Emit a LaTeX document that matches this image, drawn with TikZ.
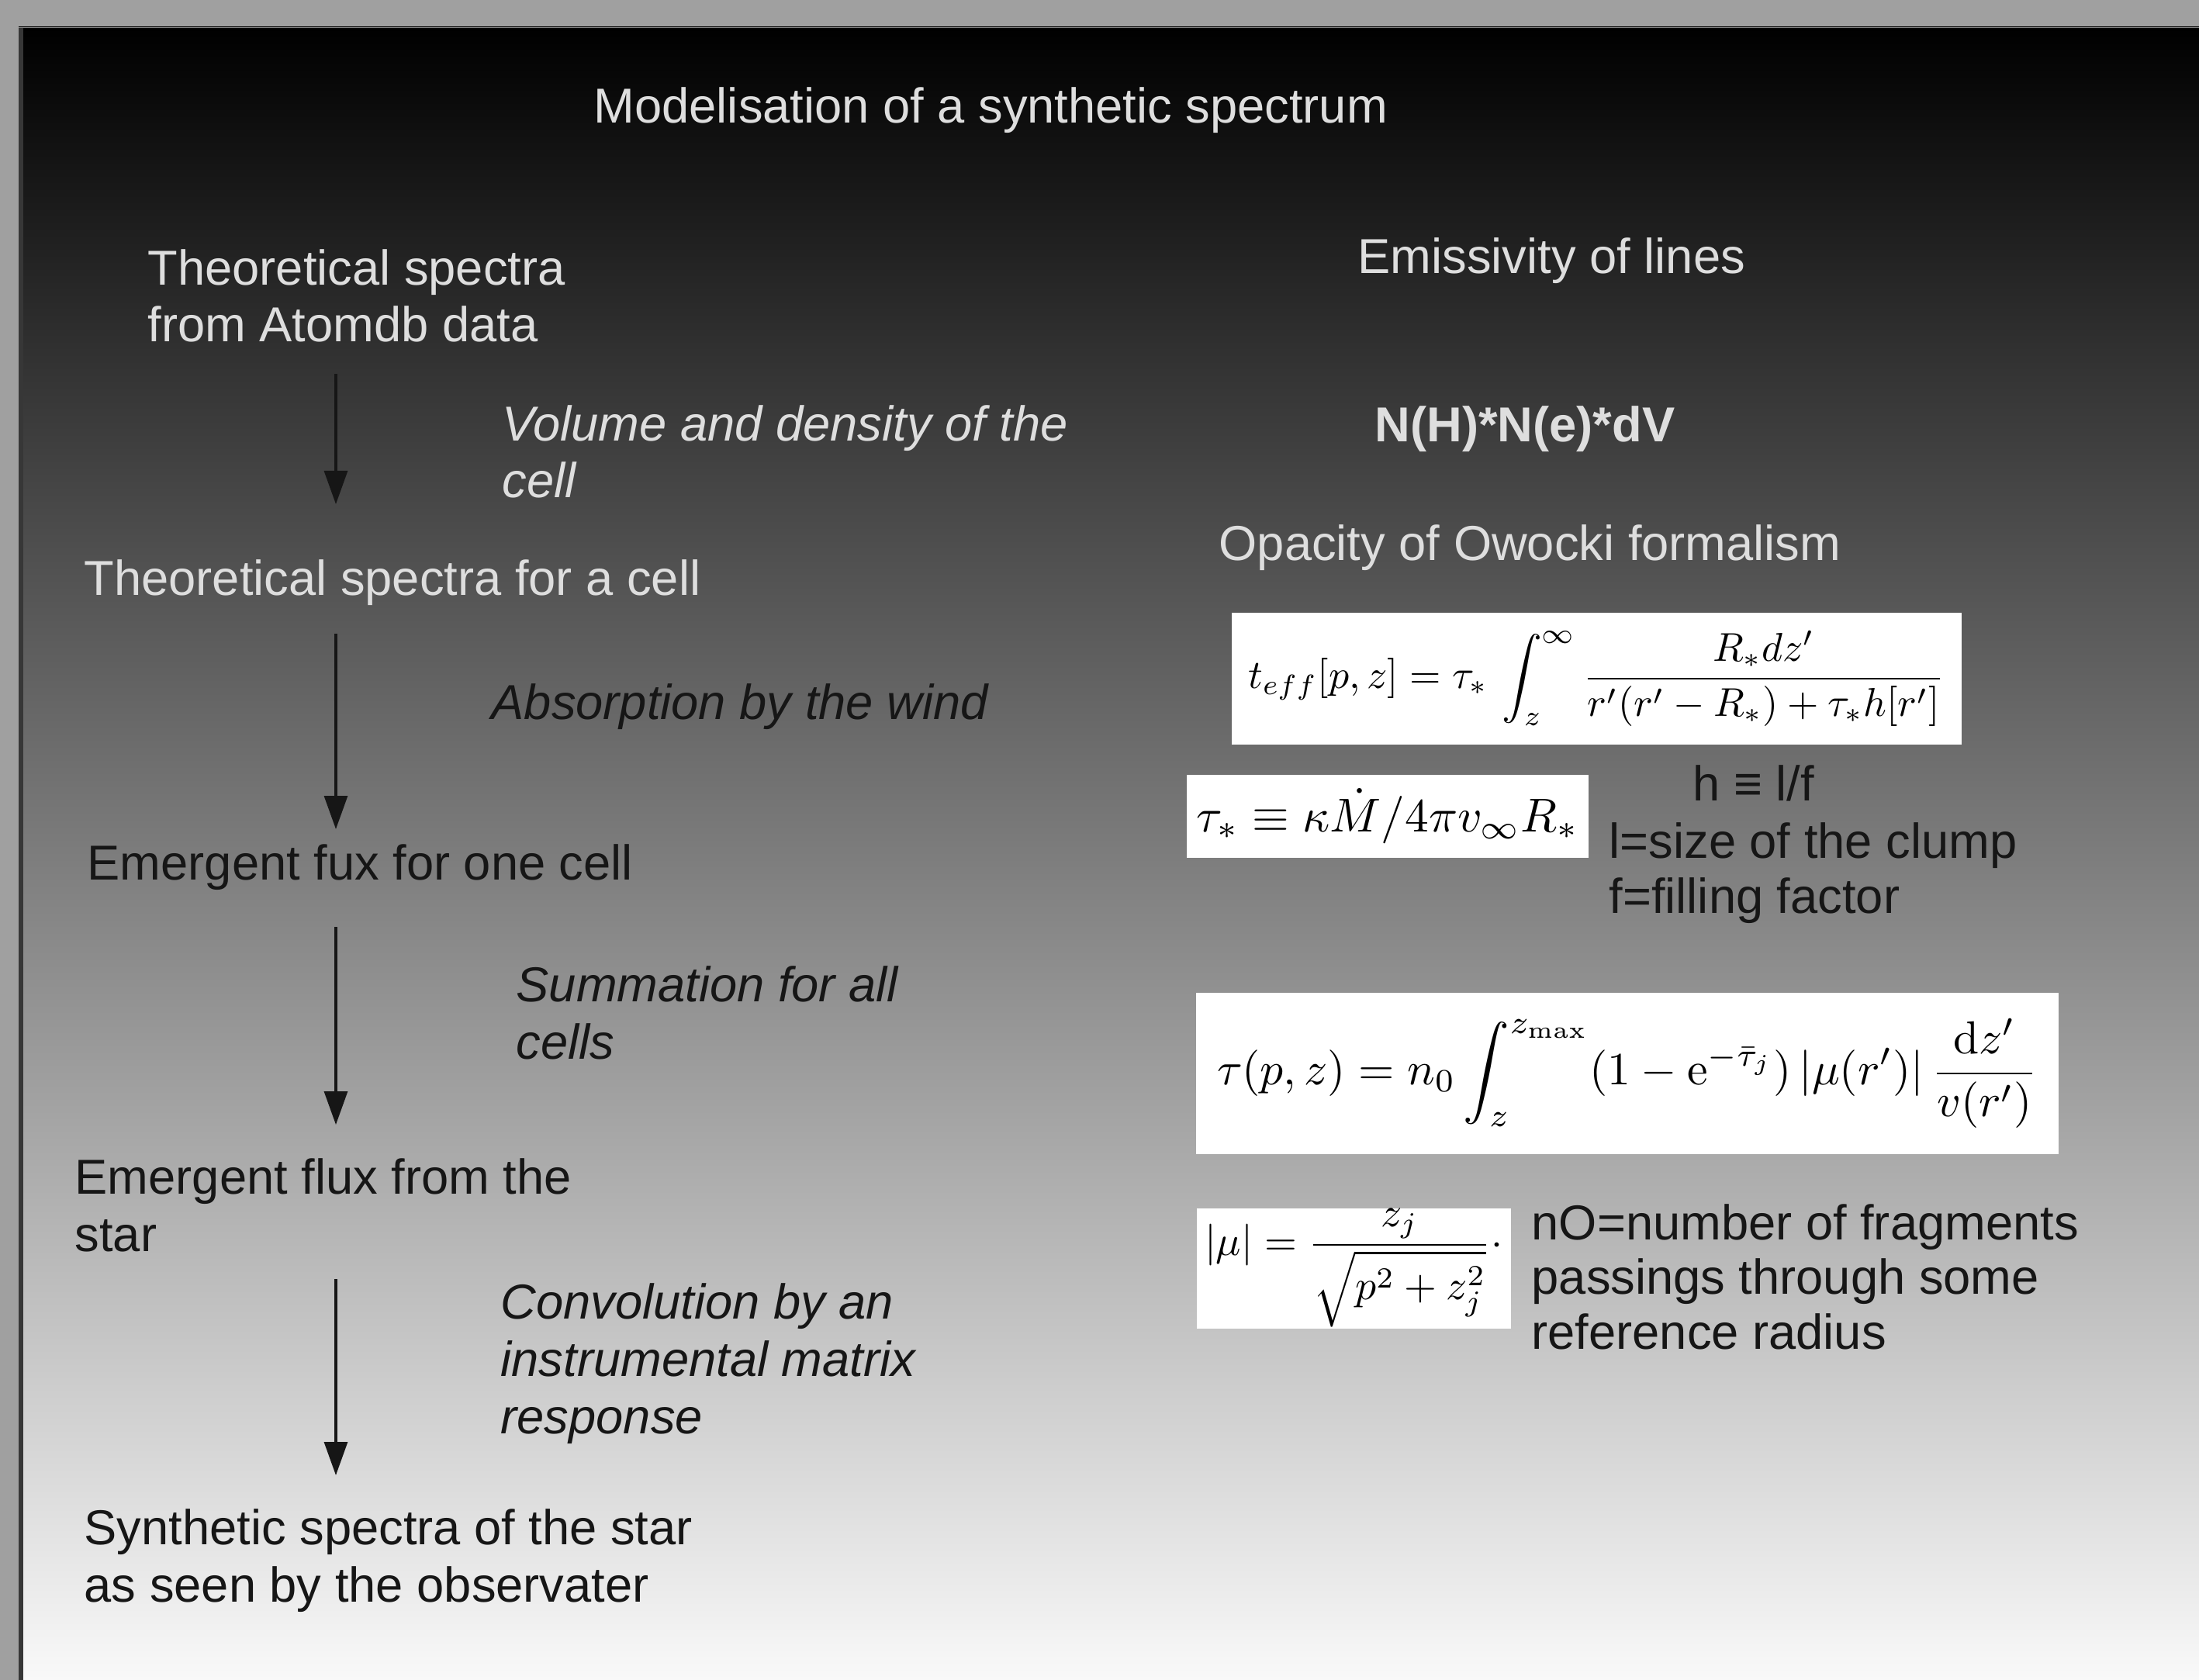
\documentclass[tikz,border=0pt]{standalone}
\usepackage[no-math]{fontspec}
\setmainfont{Liberation Sans}
\usepackage{amsmath}
\usepackage{graphicx}
\usetikzlibrary{arrows.meta}
\definecolor{frame}{RGB}{160,160,160}
\definecolor{edge}{RGB}{55,55,55}
\definecolor{pale}{RGB}{222,222,222}
\definecolor{ink}{RGB}{22,22,22}
\definecolor{fade}{RGB}{249,249,249}

\begin{document}
\begin{tikzpicture}[
  txt/.style={anchor=base west, align=left, inner sep=0, font=\fontsize{18}{21}\selectfont},
  note/.style={txt, font=\fontsize{18}{21}\selectfont\itshape},
  side/.style={txt, font=\fontsize{18}{20}\selectfont},
  eqbox/.style={fill=white, inner sep=0, text=black},
  flow/.style={-{Triangle[length=4.3mm, width=3mm]}, line width=0.9pt, ink}
]
  \useasboundingbox (0,0) rectangle (28.35,-21.66);
  \fill[frame] (0,0) rectangle (28.35,-21.66);
  \shade[top color=black, bottom color=fade] (0.24,-0.35) rectangle (28.35,-21.66);
  \fill[edge] (0.24,-0.35) rectangle (0.30,-21.66);
  \draw[gray, line width=0.3pt] (0.24,-0.355) -- (28.35,-0.355);

  % title
  \node[txt, pale] (title) at (7.65,-1.59) {Modelisation of a synthetic spectrum};

  % left column: the chain of steps (multi-line nodes sit on their last line)
  \node[txt, pale] (atomdb) at (1.90,-4.41) {Theoretical spectra\\from Atomdb data};
  \node[note, pale] (volume) at (6.47,-6.42) {Volume and density of the\\cell};
  \node[txt, pale] (cellspec) at (1.08,-7.68) {Theoretical spectra for a cell};
  \node[note, ink] (absorb) at (6.33,-9.28) {Absorption by the wind};
  \node[txt, ink] (cellflux) at (1.12,-11.34) {Emergent fux for one cell};
  \node[note, ink] (summ) at (6.65,-13.65) {Summation for all\\cells};
  \node[txt, ink] (starflux) at (0.96,-16.13) {Emergent flux from the\\star};
  \node[note, ink] (conv) at (6.45,-18.48) {Convolution by an\\instrumental matrix\\response};
  \node[txt, ink] (synth) at (1.08,-20.65) {Synthetic spectra of the star\\as seen by the observater};

  \foreach \n/\ys/\ye in {1/4.82/6.50, 2/8.17/10.69, 3/11.95/14.50, 4/16.49/19.02} {
    \coordinate (s\n) at (4.33,-\ys);
    \coordinate (e\n) at (4.33,-\ye);
    \draw[flow] (s\n) -- (e\n);
  }

  % right column: emissivity and opacity
  \node[txt, pale] (emis) at (17.50,-3.53) {Emissivity of lines};
  \node[txt, pale, font=\fontsize{18}{21}\selectfont\bfseries] (nhne) at (17.72,-5.70) {N(H)*N(e)*dV};
  \node[txt, pale] (opac) at (15.71,-7.23) {Opacity of Owocki formalism};

  \node[eqbox, minimum width=9.41cm, minimum height=1.70cm] (teff) at (20.58,-8.75)
    {\resizebox{8.98cm}{!}{$\displaystyle t_{eff}[p,z]=\tau_*\,\int_z^{\infty}\frac{R_*dz'}{r'(r'-R_*)+\tau_*h[r']}$}};
  \node[eqbox, minimum width=5.18cm, minimum height=1.07cm] (taustar) at (17.89,-10.52)
    {\resizebox{4.93cm}{!}{$\tau_*\equiv\kappa\dot{M}/4\pi v_\infty R_*$}};
  \node[side, ink] (hdef) at (21.82,-10.32) {h ≡ l/f};
  \node[side, ink] (clump) at (20.74,-11.77) {l=size of the clump\\f=filling factor};

  \node[eqbox, minimum width=11.12cm, minimum height=2.08cm] (taupz) at (20.98,-13.84)
    {\resizebox{10.58cm}{!}{$\displaystyle \tau(p,z)=n_0\int_z^{z_{\max}}(1-\mathrm{e}^{-\bar{\tau}_j})\,|\mu(r')|\,\frac{\mathrm{d}z'}{v(r')}$}};
  \node[eqbox, minimum width=4.05cm, minimum height=1.55cm] (mu) at (17.45,-16.35)
    {\resizebox{3.84cm}{!}{$\displaystyle |\mu|=\frac{z_j}{\sqrt{p^2+z_j^2}}{\cdot}$}};
  \node[side, ink] (frag) at (19.74,-17.39) {nO=number of fragments\\passings through some\\reference radius};
\end{tikzpicture}
\end{document}
